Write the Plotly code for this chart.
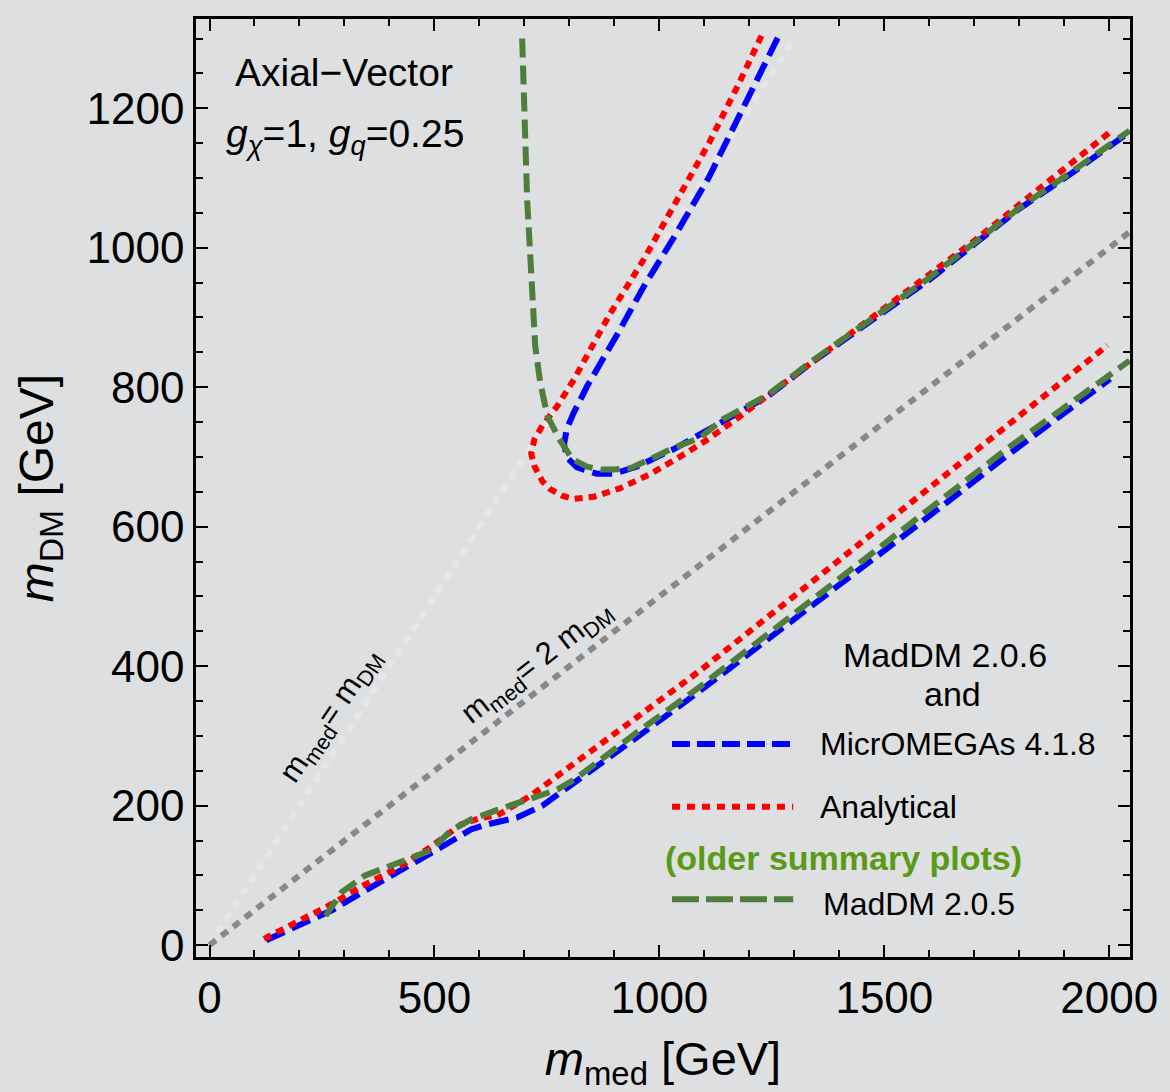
import plotly.graph_objects as go

# Relic-density contours, axial-vector mediator, g_chi = 1, g_q = 0.25
# (m_med, m_DM) in GeV

# MicrOMEGAs 4.1.8 - lower branch
blue_lo_x = [126, 200, 272, 340, 419, 492, 540, 581, 610, 640, 684, 740, 788, 861, 950, 1089, 1318, 1545, 1775, 2002]
blue_lo_y = [7, 28, 50, 76, 104, 132, 150, 166, 172, 176, 183, 200, 222, 255, 298, 364, 476, 588, 703, 812]
# MicrOMEGAs 4.1.8 - upper branch
blue_up_x = [1263, 1185, 1110, 1038, 965, 910, 872, 839, 810, 794, 788, 795, 817, 861, 898, 949, 1031, 1141, 1241, 1340, 1479, 1600, 1700, 1800, 1921, 2045]
blue_up_y = [1301, 1197, 1101, 1021, 944, 880, 838, 801, 764, 740, 718, 699, 685, 676, 676, 686, 711, 750, 787, 836, 899, 954, 1005, 1056, 1109, 1166]

# Analytical - lower branch
red_lo_x = [121, 200, 272, 340, 419, 490, 559, 600, 640, 713, 780, 861, 1089, 1318, 1545, 1775, 1996]
red_lo_y = [9, 35, 59, 85, 111, 140, 173, 182, 186, 214, 246, 285, 393, 510, 627, 748, 860]
# Analytical - upper branch
red_up_x = [1227, 1177, 1110, 1038, 965, 890, 850, 810, 773, 740, 722, 715, 722, 740, 757, 785, 810, 854, 912, 978, 1040, 1100, 1166, 1280, 1375, 1480, 1600, 1700, 1800, 1900, 2000]
red_up_y = [1304, 1236, 1150, 1069, 983, 905, 857, 811, 773, 745, 725, 705, 687, 665, 654, 644, 640, 643, 655, 675, 698, 722, 752, 807, 854, 902, 960, 1010, 1062, 1113, 1165]

# MadDM 2.0.5 - lower branch
green_lo_x = [258, 294, 346, 419, 492, 536, 581, 640, 713, 773, 810, 861, 950, 1089, 1318, 1545, 1775, 2045]
green_lo_y = [42, 76, 100, 119, 136, 164, 180, 194, 209, 223, 237, 262, 305, 370, 484, 596, 713, 838]
# MadDM 2.0.5 - upper branch
green_up_x = [695, 700, 706, 712, 717, 724, 735, 751, 777, 806, 839, 870, 898, 936, 980, 1031, 1089, 1141, 1241, 1340, 1479, 1600, 1700, 1800, 1921, 2045]
green_up_y = [1300, 1190, 1069, 1000, 930, 859, 807, 759, 726, 697, 686, 682, 682, 684, 697, 713, 727, 754, 789, 838, 901, 957, 1007, 1057, 1111, 1168]

# Reference diagonals m_med = m_DM and m_med = 2 m_DM
diag1_x = [0, 1300]
diag1_y = [0, 1300]
diag2_x = [0, 2060]
diag2_y = [0, 1030]

x_ticks = [0, 500, 1000, 1500, 2000]
y_ticks = [0, 200, 400, 600, 800, 1000, 1200]

BG = "#DEDFE1"
BLUE = "#0000FF"
RED = "#FF0000"
GREEN = "#4F7D3C"
LABEL_GREEN = "#5A9A14"
GRAY = "#888888"
LIGHT = "#E7E7E7"
FONT = "Liberation Sans, Arial, Helvetica, sans-serif"

fig = go.Figure()

def add_curve(x, y, color, dash, width=6):
    fig.add_trace(go.Scatter(x=x, y=y, mode="lines", showlegend=False,
                             line=dict(color=color, width=width, dash=dash),
                             hoverinfo="skip"))

add_curve(diag1_x, diag1_y, LIGHT, "8px,7px")
add_curve(diag2_x, diag2_y, GRAY, "8px,7px")
add_curve(blue_lo_x, blue_lo_y, BLUE, "20px,8px")
add_curve(blue_up_x, blue_up_y, BLUE, "20px,8px")
add_curve(red_lo_x, red_lo_y, RED, "8px,6px")
add_curve(red_up_x, red_up_y, RED, "8px,6px")
add_curve(green_lo_x, green_lo_y, GREEN, "19px,8px")
add_curve(green_up_x, green_up_y, GREEN, "19px,8px")

# Legend samples and labels
samples = [
    (0.2272, BLUE, "18px,7px"),
    (0.1603, RED, "8px,7px"),
    (0.0616, GREEN, "27px,7px"),
]
for yy, col, dsh in samples:
    fig.add_shape(type="line", xref="paper", yref="paper",
                  x0=0.5096, x1=0.6394, y0=yy, y1=yy,
                  line=dict(color=col, width=6, dash=dsh))

ann = []
def text(x, y, s, size=32, color="black", xanchor="center", angle=0, xref="paper", yref="paper"):
    ann.append(dict(x=x, y=y, xref=xref, yref=yref, text=s, showarrow=False,
                    xanchor=xanchor, yanchor="middle", textangle=angle,
                    font=dict(family=FONT, size=size, color=color)))

text(0.802, 0.3217, "MadDM 2.0.6", size=34)
text(0.8096, 0.2803, "and", size=34)
text(0.666, 0.2272, "MicrOMEGAs 4.1.8", xanchor="left", size=32)
text(0.666, 0.1603, "Analytical", xanchor="left", size=32)
text(0.6936, 0.1051, "<b>(older summary plots)</b>", color=LABEL_GREEN, size=34)
text(0.669, 0.0563, "MadDM 2.0.5", xanchor="left", size=32)

text(0.1585, 0.9427, "Axial\u2212Vector", size=39)
text(0.160, 0.8747, "<i>g</i><sub><i>\u03c7</i></sub>=1, <i>g</i><sub><i>q</i></sub>=0.25", size=39)

text(271, 329, "m<sub>med</sub>= m<sub>DM</sub>", size=31, angle=-56, xref="x", yref="y")
text(728, 405, "m<sub>med</sub>= 2 m<sub>DM</sub>", size=31, angle=-38, xref="x", yref="y")

axis_common = dict(
    ticks="inside", ticklen=12, tickwidth=2, tickcolor="black",
    showline=True, linewidth=2.5, linecolor="black", mirror="allticks",
    showgrid=False, zeroline=False,
    tickfont=dict(family=FONT, size=44, color="black"),
)

fig.update_layout(
    width=1170, height=1092,
    margin=dict(l=196, r=34, t=19, b=131),
    paper_bgcolor=BG, plot_bgcolor=BG,
    annotations=ann,
    xaxis=dict(range=[-30, 2046], tickvals=x_ticks,
               minor=dict(dtick=100, tick0=0, ticks="inside", ticklen=7, tickwidth=1.5, tickcolor="black"),
               title=dict(text="<i>m</i><sub>med</sub> [GeV]", standoff=26,
                          font=dict(family=FONT, size=47, color="black")),
               **axis_common),
    yaxis=dict(range=[-17, 1328], tickvals=y_ticks,
               minor=dict(dtick=50, tick0=0, ticks="inside", ticklen=7, tickwidth=1.5, tickcolor="black"),
               title=dict(text="<i>m</i><sub>DM</sub> [GeV]", standoff=18,
                          font=dict(family=FONT, size=48, color="black")),
               **axis_common),
)

fig.write_html("out.html")
